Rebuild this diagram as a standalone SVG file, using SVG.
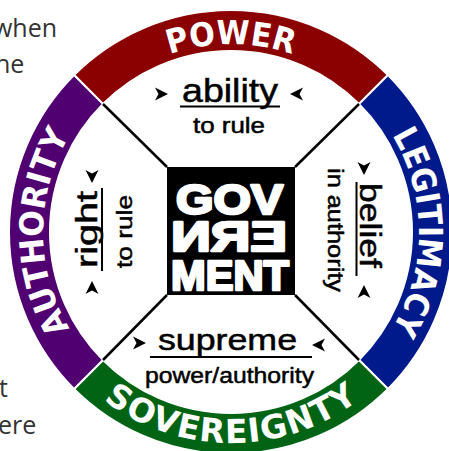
<svg xmlns="http://www.w3.org/2000/svg" xmlns:xlink="http://www.w3.org/1999/xlink" width="449" height="451" viewBox="0 0 449 451">
<style>
.band{stroke:#fff;stroke-width:2}
.ring{font-family:"DejaVu Sans",Verdana,sans-serif;font-weight:bold;font-size:33px;fill:#fff}
.w{font-family:"Liberation Sans",Arial,sans-serif;fill:#000;stroke:#000;stroke-width:0.5;text-anchor:middle}
.big{font-size:30px}
.small{font-size:22px}
.ul{stroke:#000;stroke-width:2}
.diag{stroke:#000;stroke-width:2.5}
.gov{font-family:"Liberation Sans",Arial,sans-serif;font-weight:bold;font-size:42px;fill:#fff;stroke:#fff;stroke-width:2.6;stroke-linejoin:round;text-anchor:middle}
.page{font-family:"Open Sans",sans-serif;font-size:25px;fill:#333}
</style>
<defs>
<path id="ah" d="M-6,-6.5 L7,0 L-6,6.5 L-2.5,0 Z" fill="#000"/>
<path id="pTop" d="M43,232 A188,188 0 0 1 419,232"/>
<path id="pRight" d="M231,44 A188,188 0 0 1 231,420"/>
<path id="pLeft" d="M231,420 A188,188 0 0 1 231,44"/>
<path id="pBottom" d="M20,232 A211,211 0 0 0 442,232"/>
</defs>

<g id="page-text">
<text class="page" x="-7" y="37">when</text>
<text class="page" x="-5" y="73">he</text>
<text class="page" x="-1" y="397">t</text>
<text class="page" x="-2" y="434">ere</text>
</g>

<g id="power">
<path class="band" fill="#8B0000" d="M74.02,75.02 A222,222 0 0 1 387.98,75.02 L358.99,104.01 A181,181 0 0 0 103.01,104.01 Z"/>
<text class="ring"><textPath href="#pTop" startOffset="50%" text-anchor="middle" textLength="125" lengthAdjust="spacingAndGlyphs">POWER</textPath></text>
</g>
<g id="legitimacy">
<path class="band" fill="#001A8C" d="M387.98,75.02 A222,222 0 0 1 387.98,388.98 L358.99,359.99 A181,181 0 0 0 358.99,104.01 Z"/>
<text class="ring"><textPath href="#pRight" startOffset="50%" text-anchor="middle" textLength="204" lengthAdjust="spacingAndGlyphs">LEGITIMACY</textPath></text>
</g>
<g id="sovereignty">
<path class="band" fill="#006414" d="M387.98,388.98 A222,222 0 0 1 74.02,388.98 L103.01,359.99 A181,181 0 0 0 358.99,359.99 Z"/>
<text class="ring"><textPath href="#pBottom" startOffset="50%" text-anchor="middle" textLength="274" lengthAdjust="spacing">SOVEREIGNTY</textPath></text>
</g>
<g id="authority">
<path class="band" fill="#500070" d="M74.02,388.98 A222,222 0 0 1 74.02,75.02 L103.01,104.01 A181,181 0 0 0 103.01,359.99 Z"/>
<text class="ring"><textPath href="#pLeft" startOffset="50%" text-anchor="middle" textLength="203" lengthAdjust="spacingAndGlyphs">AUTHORITY</textPath></text>
</g>

<g id="connectors">
<line class="diag" x1="103" y1="104" x2="167" y2="167"/>
<line class="diag" x1="359" y1="104" x2="295" y2="167"/>
<line class="diag" x1="359" y1="360" x2="295" y2="295"/>
<line class="diag" x1="103" y1="360" x2="167" y2="295"/>
</g>

<g id="government">
<rect x="167" y="167" width="128" height="128" fill="#000"/>
<text class="gov" x="229.5" y="214" textLength="107" lengthAdjust="spacingAndGlyphs">GOV</text>
<text class="gov" transform="translate(458,0) scale(-1,1)" x="229" y="251" textLength="116" lengthAdjust="spacingAndGlyphs">ERN</text>
<text class="gov" x="230" y="290" textLength="118" lengthAdjust="spacingAndGlyphs">MENT</text>
</g>

<g id="ability">
<use href="#ah" transform="translate(161,94)"/>
<use href="#ah" transform="translate(297,94) rotate(180)"/>
<text class="w" x="230" y="102" font-size="33" textLength="96" lengthAdjust="spacingAndGlyphs">ability</text>
<line class="ul" x1="180" y1="106.5" x2="280" y2="106.5"/>
<text class="w small" x="229" y="133" textLength="72" lengthAdjust="spacingAndGlyphs">to rule</text>
</g>

<g id="right">
<use href="#ah" transform="translate(92,176) rotate(90)"/>
<use href="#ah" transform="translate(92,288) rotate(-90)"/>
<text class="w big" transform="translate(97,229.5) rotate(-90)" textLength="77" lengthAdjust="spacingAndGlyphs">right</text>
<line class="ul" x1="102" y1="188" x2="102" y2="271"/>
<text class="w small" transform="translate(132,231.5) rotate(-90)" textLength="73" lengthAdjust="spacingAndGlyphs">to rule</text>
</g>

<g id="belief">
<use href="#ah" transform="translate(364,168) rotate(90)"/>
<use href="#ah" transform="translate(364,292) rotate(-90)"/>
<text class="w big" transform="translate(360,225.5) rotate(90)" textLength="85" lengthAdjust="spacingAndGlyphs">belief</text>
<line class="ul" x1="356.5" y1="182" x2="356.5" y2="276"/>
<text class="w small" transform="translate(328,230) rotate(90)" textLength="124" lengthAdjust="spacingAndGlyphs">in authority</text>
</g>

<g id="supreme">
<use href="#ah" transform="translate(139,343)"/>
<use href="#ah" transform="translate(319,345) rotate(180)"/>
<text class="w" x="227.5" y="350" font-size="29" textLength="139" lengthAdjust="spacingAndGlyphs">supreme</text>
<line class="ul" x1="150" y1="357" x2="312" y2="357"/>
<text class="w small" x="229.5" y="383" textLength="169" lengthAdjust="spacingAndGlyphs">power/authority</text>
</g>
</svg>
